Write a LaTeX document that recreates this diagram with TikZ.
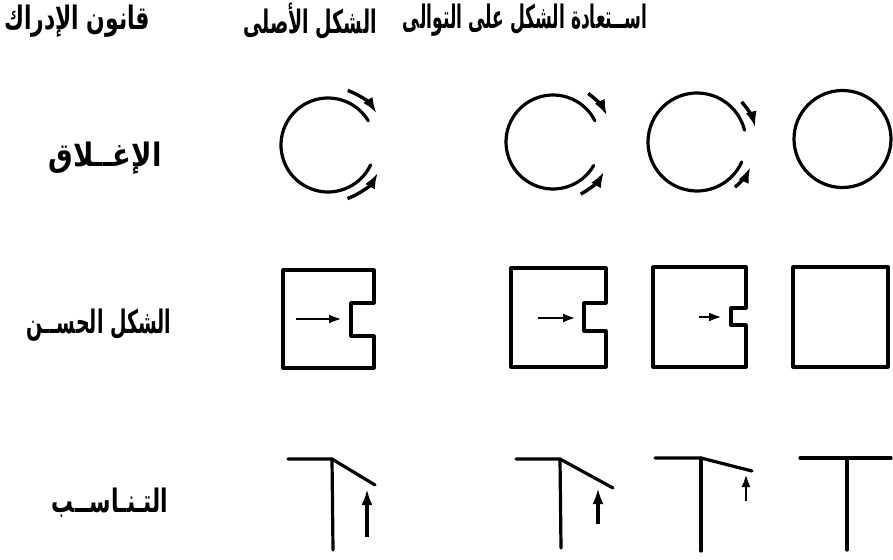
\documentclass[tikz,border=0pt]{standalone}
\usepackage{fontspec}
\newfontfamily\arabicfont[Script=Arabic]{DejaVu Sans}
\TeXXeTstate=1
\usetikzlibrary{arrows.meta}
\tikzset{
  lbl/.style={font=\arabicfont\bfseries\fontsize{19}{22}\selectfont, inner sep=0pt, yscale=1.7},
  shape line/.style={line width=3.2pt, line join=round, line cap=round},
  bigarrow/.style={line width=3.4pt, -{Latex[length=16pt,width=11pt]}},
  smallarrow/.style={line width=2.8pt, -{Latex[length=13pt,width=9pt]}},
}
\begin{document}
\begin{tikzpicture}[x=1pt,y=-1pt]
\useasboundingbox (0,0) rectangle (893,559);
% headers
\node[lbl, xscale=1.15] (h1) at (77,21) {\beginR قانون الإدراك\endR};
\node[lbl] (h2) at (310,21) {\beginR الشكل الأصلى\endR};
\node[lbl, xscale=0.9] (h3) at (525,20) {\beginR اســتعادة الشكل على التوالى\endR};
% row labels
\node[lbl, xscale=1.45] (r1) at (105,158) {\beginR الإغــلاق\endR};
\node[lbl] (r2) at (99,325) {\beginR الشكل الحســن\endR};
\node[lbl, xscale=1.15] (r3) at (110,503) {\beginR التـنـاســب\endR};

% Row 1: circles
\coordinate (c1) at (328,145);
\draw[shape line] (c1) ++(25:47) arc[start angle=25, end angle=329, radius=47];
\draw[bigarrow] (c1) ++(-70:58) arc[start angle=-70, end angle=-33, radius=58];
\draw[bigarrow] (c1) ++(70:57) arc[start angle=70, end angle=29, radius=57];

\coordinate (c2) at (553,142);
\draw[shape line] (c2) ++(30:47) arc[start angle=30, end angle=333, radius=47];
\draw[bigarrow] (c2) ++(-54:60) arc[start angle=-54, end angle=-26, radius=60];
\draw[bigarrow] (c2) ++(62:59) arc[start angle=62, end angle=30, radius=59];

\coordinate (c3) at (697,142);
\draw[shape line] (c3) ++(24:49) arc[start angle=24, end angle=346, radius=49];
\draw[bigarrow] (c3) ++(-42:60) arc[start angle=-42, end angle=-14, radius=60];
\draw[bigarrow] (c3) ++(50:59) arc[start angle=50, end angle=25, radius=59];

\coordinate (c4) at (842.5,139);
\draw[shape line] (c4) circle[radius=48.5];

% Row 2: squares
\draw[shape line] (283,270) -- (374,270) -- (374,303) -- (351,303) -- (351,336) -- (374,336) -- (374,368) -- (283,368) -- cycle;
\coordinate (a1s) at (296,319); \coordinate (a1e) at (342,319);
\draw[smallarrow] (a1s) -- (a1e);

\draw[shape line] (511,268) -- (606,268) -- (606,303) -- (584,303) -- (584,331) -- (606,331) -- (606,367) -- (511,367) -- cycle;
\coordinate (a2s) at (538,318); \coordinate (a2e) at (576,318);
\draw[smallarrow] (a2s) -- (a2e);

\draw[shape line] (653,267) -- (746,267) -- (746,308) -- (731,308) -- (731,325) -- (746,325) -- (746,367) -- (653,367) -- cycle;
\coordinate (a3s) at (699,317); \coordinate (a3e) at (722,317);
\draw[smallarrow] (a3s) -- (a3e);

\draw[shape line] (793,267) rectangle (888,367);

% Row 3: T shapes
\coordinate (t1) at (332,459);
\draw[shape line] (288,459) -- (t1) -- (375,485);
\draw[shape line] (t1) -- (333,550);
\coordinate (b1s) at (367,537); \coordinate (b1e) at (367,489);
\draw[bigarrow] (b1s) -- (b1e);

\coordinate (t2) at (560,459);
\draw[shape line] (516,459) -- (t2) -- (613,488);
\draw[shape line] (t2) -- (561,548);
\coordinate (b2s) at (598,524); \coordinate (b2e) at (598,488);
\draw[bigarrow] (b2s) -- (b2e);

\coordinate (t3) at (701,458);
\draw[shape line] (655,458) -- (t3) -- (752,471);
\draw[shape line] (t3) -- (701,551);
\coordinate (b3s) at (746,501); \coordinate (b3e) at (746,474);
\draw[smallarrow] (b3s) -- (b3e);

\coordinate (t4) at (847,458);
\draw[shape line] (800,458) -- (891,458);
\draw[shape line] (t4) -- (847,550);
\end{tikzpicture}
\end{document}
